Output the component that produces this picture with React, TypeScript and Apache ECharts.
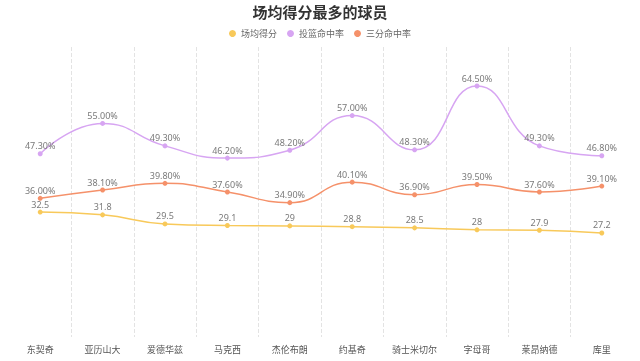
import React, { useEffect, useRef } from "react";
import * as echarts from "echarts";

const players = ["东契奇", "亚历山大", "爱德华兹", "马克西", "杰伦布朗", "约基奇", "骑士米切尔", "字母哥", "莱昂纳德", "库里"];
const pointsPerGame = [32.5, 31.8, 29.5, 29.1, 29, 28.8, 28.5, 28, 27.9, 27.2];
const fgPct = [47.3, 55.0, 49.3, 46.2, 48.2, 57.0, 48.3, 64.5, 49.3, 46.8];
const threePct = [36.0, 38.1, 39.8, 37.6, 34.9, 40.1, 36.9, 39.5, 37.6, 39.1];
const seriesNames = ["场均得分", "投篮命中率", "三分命中率"];
const title = "场均得分最多的球员";

export default function App() {
  const ref = useRef<HTMLDivElement>(null);
  useEffect(() => {
    if (!ref.current) return;
    const chart = echarts.init(ref.current, null, { renderer: "svg" });
    const font = "'Noto Sans', 'Noto Sans CJK SC', sans-serif";
    const mk = (name: string, data: number[], color: string, pct: boolean) => ({
      name,
      type: "line",
      data,
      smooth: true,
      symbol: "circle",
      symbolSize: 5,
      itemStyle: { color },
      lineStyle: { color, width: 1.5 },
      label: {
        show: true,
        position: "top",
        distance: 1,
        color: "#7a7a7a",
        fontSize: 9,
        fontFamily: font,
        formatter: (p: any) => (pct ? Number(p.value).toFixed(2) + "%" : String(p.value)),
      },
    });
    chart.setOption({
      animation: false,
      textStyle: { fontFamily: font },
      title: {
        text: title,
        left: "center",
        top: -1,
        textStyle: { fontSize: 15, fontWeight: "bold", color: "#333", fontFamily: "'Noto Sans CJK SC', sans-serif" },
      },
      legend: {
        top: 24,
        left: "center",
        icon: "circle",
        itemWidth: 7,
        itemHeight: 7,
        itemGap: 10,
        textStyle: { fontSize: 9, color: "#666", fontFamily: font },
        data: seriesNames,
      },
      grid: { left: 9, right: 7, top: 47, bottom: 24, containLabel: false },
      xAxis: {
        type: "category",
        data: players,
        boundaryGap: true,
        axisLine: { show: false },
        axisTick: { show: false },
        axisLabel: { color: "#555", fontSize: 9, fontFamily: font, margin: 8, interval: 0 },
        splitLine: {
          show: true,
          showMinLine: false,
          showMaxLine: false,
          lineStyle: { type: "dashed", color: "#e3e3e3" },
        },
      },
      yAxis: {
        type: "value",
        min: 0.8,
        max: 74.4,
        show: false,
        splitLine: { show: false },
      },
      series: [
        mk(seriesNames[0], pointsPerGame, "#f8c95a", false),
        mk(seriesNames[1], fgPct, "#d7a5f2", true),
        mk(seriesNames[2], threePct, "#f5916a", true),
      ],
    });
    return () => chart.dispose();
  }, []);
  return <div ref={ref} style={{ position: "fixed", left: 0, top: 0, width: 640, height: 361 }} />;
}
